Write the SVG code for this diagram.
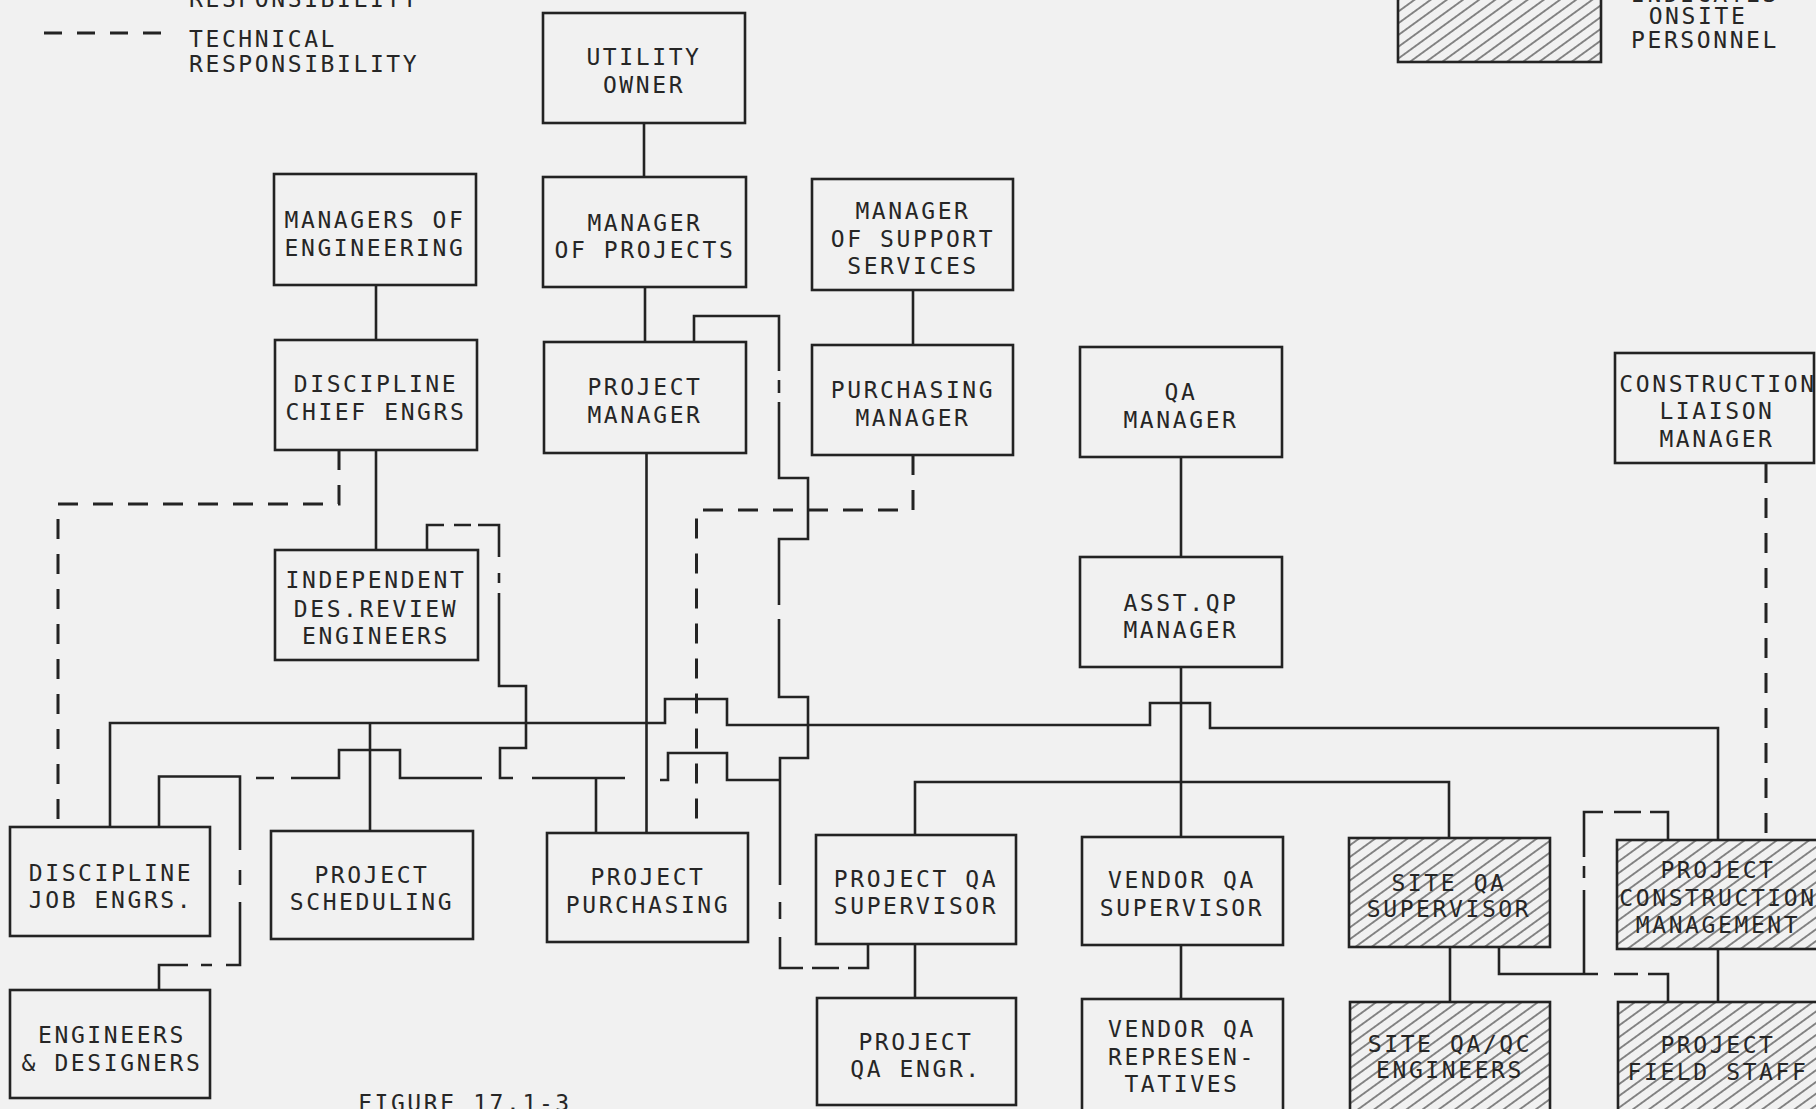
<svg xmlns="http://www.w3.org/2000/svg" width="1816" height="1109" viewBox="0 0 1816 1109">
<style>
.box{fill:none;stroke:#232323;stroke-width:2.6}
.hb{fill:url(#hatch);stroke:#232323;stroke-width:2.6}
.t{font-family:"DejaVu Sans Mono","Liberation Mono",monospace;font-size:23px;letter-spacing:2.6px;fill:#262626;text-anchor:middle}
.ts{font-family:"DejaVu Sans Mono","Liberation Mono",monospace;font-size:23px;letter-spacing:2.6px;fill:#262626;text-anchor:start}
.ln{fill:none;stroke:#232323;stroke-width:2.6;stroke-linejoin:miter}
.dash{fill:none;stroke:#232323;stroke-width:3;stroke-dasharray:20 15}
</style>
<defs>
<pattern id="hatch" patternUnits="userSpaceOnUse" width="12" height="9.5" patternTransform="rotate(-36)">
<line x1="-1" y1="4.75" x2="13" y2="4.75" stroke="#404040" stroke-width="1.2"/>
</pattern>
</defs>
<rect x="0" y="0" width="1816" height="1109" fill="#f1f1f1"/>

<g id="legend">
<text class="ts" x="189" y="7">RESPONSIBILITY</text>
<path d="M44 33 H162" fill="none" stroke="#232323" stroke-width="3" stroke-dasharray="18 15"/>
<text class="ts" x="189" y="47">TECHNICAL</text>
<text class="ts" x="189" y="72">RESPONSIBILITY</text>
<rect class="hb" x="1398" y="-30" width="203" height="92"/>
<text class="t" x="1705" y="2">INDICATES</text>
<text class="t" x="1698" y="24">ONSITE</text>
<text class="t" x="1705" y="48">PERSONNEL</text>
</g>

<g id="connectors">
<path class="ln" d="M644 123 V177"/>
<path class="ln" d="M376 285 V340"/>
<path class="ln" d="M376 450 V550"/>
<path class="ln" d="M645 287 V342"/>
<path class="ln" d="M646.5 453 V833"/>
<path class="ln" d="M913 290 V345"/>
<path class="ln" d="M1181 457 V557"/>
<path class="ln" d="M1181 667 V837"/>
<path class="ln" d="M1181 945 V999"/>
<path class="ln" d="M915 944 V998"/>
<path class="ln" d="M1450 947 V1002"/>
<path class="ln" d="M1718 949 V1002"/>
<path class="ln" d="M110 827 V723 H665 V699 H727 V725 H1150 V703 H1210 V728 H1718 V840"/>
<path class="ln" d="M370 723 V831"/>
<path class="ln" d="M915 835 V782 H1449 V838"/>
<path class="ln" d="M1499 947 V974 H1598 M1614 974 H1638 M1648 974 H1668 V1002"/>
<path class="ln" d="M1668 840 V812 H1650 M1641 812 H1614 M1603 812 H1584 V857 M1584 866 V878 M1584 890 V974"/>
<path class="ln" d="M159 827 V776.5 H240 V850 M240 870 V885 M240 902 V965 H226 M212 965 H201 M188 965 H159 V990"/>
<path class="ln" d="M256 778 H274 M291 778 H339 V750 H400 V778 H482"/>
<path class="ln" d="M427 550 V525 H444 M454 525 H471 M478 525 H499 V557 M499 573 V583 M499 593 V686 H526 V748 H500 V778 H513"/>
<path class="ln" d="M532 778 H625 M596 778 V833"/>
<path class="ln" d="M660 780 H668 V753 H727 V780 H780"/>
<path class="ln" d="M694 342 V316 H779 V371 M779 380 V393 M779 402 V478 H808 V539 H779 V605 M779 619 V697 H808 V758 H780 V885 M780 902 V919 M780 937 V968 H803 M812 968 H839 M848 968 H868 V945"/>
<path class="dash" d="M339 450 V504 H58 V827"/>
<path class="dash" d="M913 455 V510 H696.5 V833"/>
<path class="dash" d="M1766 463 V840"/>
</g>

<g id="utility-owner"><rect class="box" x="543" y="13" width="202" height="110"/>
<text class="t" x="644" y="65">UTILITY</text><text class="t" x="644" y="93">OWNER</text></g>

<g id="managers-of-engineering"><rect class="box" x="274" y="174" width="202" height="111"/>
<text class="t" x="375" y="228">MANAGERS OF</text><text class="t" x="375" y="256">ENGINEERING</text></g>

<g id="manager-of-projects"><rect class="box" x="543" y="177" width="203" height="110"/>
<text class="t" x="645" y="231">MANAGER</text><text class="t" x="645" y="258">OF PROJECTS</text></g>

<g id="manager-of-support-services"><rect class="box" x="812" y="179" width="201" height="111"/>
<text class="t" x="913" y="219">MANAGER</text><text class="t" x="913" y="247">OF SUPPORT</text><text class="t" x="913" y="274">SERVICES</text></g>

<g id="discipline-chief-engrs"><rect class="box" x="275" y="340" width="202" height="110"/>
<text class="t" x="376" y="392">DISCIPLINE</text><text class="t" x="376" y="420">CHIEF ENGRS</text></g>

<g id="project-manager"><rect class="box" x="544" y="342" width="202" height="111"/>
<text class="t" x="645" y="395">PROJECT</text><text class="t" x="645" y="423">MANAGER</text></g>

<g id="purchasing-manager"><rect class="box" x="812" y="345" width="201" height="110"/>
<text class="t" x="913" y="398">PURCHASING</text><text class="t" x="913" y="426">MANAGER</text></g>

<g id="qa-manager"><rect class="box" x="1080" y="347" width="202" height="110"/>
<text class="t" x="1181" y="400">QA</text><text class="t" x="1181" y="428">MANAGER</text></g>

<g id="construction-liaison-manager"><rect class="box" x="1615" y="353" width="199" height="110"/>
<text class="t" x="1718" y="392">CONSTRUCTION</text><text class="t" x="1717" y="419">LIAISON</text><text class="t" x="1717" y="447">MANAGER</text></g>

<g id="independent-des-review-engineers"><rect class="box" x="275" y="550" width="203" height="110"/>
<text class="t" x="376" y="588">INDEPENDENT</text><text class="t" x="376" y="617">DES.REVIEW</text><text class="t" x="376" y="644">ENGINEERS</text></g>

<g id="asst-qa-manager"><rect class="box" x="1080" y="557" width="202" height="110"/>
<text class="t" x="1181" y="611">ASST.QP</text><text class="t" x="1181" y="638">MANAGER</text></g>

<g id="discipline-job-engrs"><rect class="box" x="10" y="827" width="200" height="109"/>
<text class="t" x="111" y="881">DISCIPLINE</text><text class="t" x="111" y="908">JOB ENGRS.</text></g>

<g id="project-scheduling"><rect class="box" x="271" y="831" width="202" height="108"/>
<text class="t" x="372" y="883">PROJECT</text><text class="t" x="372" y="910">SCHEDULING</text></g>

<g id="project-purchasing"><rect class="box" x="547" y="833" width="201" height="109"/>
<text class="t" x="648" y="885">PROJECT</text><text class="t" x="648" y="913">PURCHASING</text></g>

<g id="project-qa-supervisor"><rect class="box" x="816" y="835" width="200" height="109"/>
<text class="t" x="916" y="887">PROJECT QA</text><text class="t" x="916" y="914">SUPERVISOR</text></g>

<g id="vendor-qa-supervisor"><rect class="box" x="1082" y="837" width="201" height="108"/>
<text class="t" x="1182" y="888">VENDOR QA</text><text class="t" x="1182" y="916">SUPERVISOR</text></g>

<g id="site-qa-supervisor"><rect class="hb" x="1349" y="838" width="201" height="109"/>
<text class="t" x="1449" y="891">SITE QA</text><text class="t" x="1449" y="917">SUPERVISOR</text></g>

<g id="project-construction-management"><rect class="hb" x="1617" y="840" width="201" height="109"/>
<text class="t" x="1718" y="878">PROJECT</text><text class="t" x="1718" y="906">CONSTRUCTION</text><text class="t" x="1718" y="933">MANAGEMENT</text></g>

<g id="engineers-designers"><rect class="box" x="10" y="990" width="200" height="108"/>
<text class="t" x="112" y="1043">ENGINEERS</text><text class="t" x="112" y="1071">&amp; DESIGNERS</text></g>

<g id="project-qa-engr"><rect class="box" x="817" y="998" width="199" height="107"/>
<text class="t" x="916" y="1050">PROJECT</text><text class="t" x="916" y="1077">QA ENGR.</text></g>

<g id="vendor-qa-representatives"><rect class="box" x="1082" y="999" width="201" height="120"/>
<text class="t" x="1182" y="1037">VENDOR QA</text><text class="t" x="1182" y="1065">REPRESEN-</text><text class="t" x="1182" y="1092">TATIVES</text></g>

<g id="site-qa-qc-engineers"><rect class="hb" x="1350" y="1002" width="200" height="117"/>
<text class="t" x="1450" y="1052">SITE QA/QC</text><text class="t" x="1450" y="1078">ENGINEERS</text></g>

<g id="project-field-staff"><rect class="hb" x="1618" y="1002" width="200" height="117"/>
<text class="t" x="1718" y="1053">PROJECT</text><text class="t" x="1718" y="1080">FIELD STAFF</text></g>

<g id="figure-label"><text class="ts" x="358" y="1111">FIGURE 17.1-3</text></g>
</svg>
